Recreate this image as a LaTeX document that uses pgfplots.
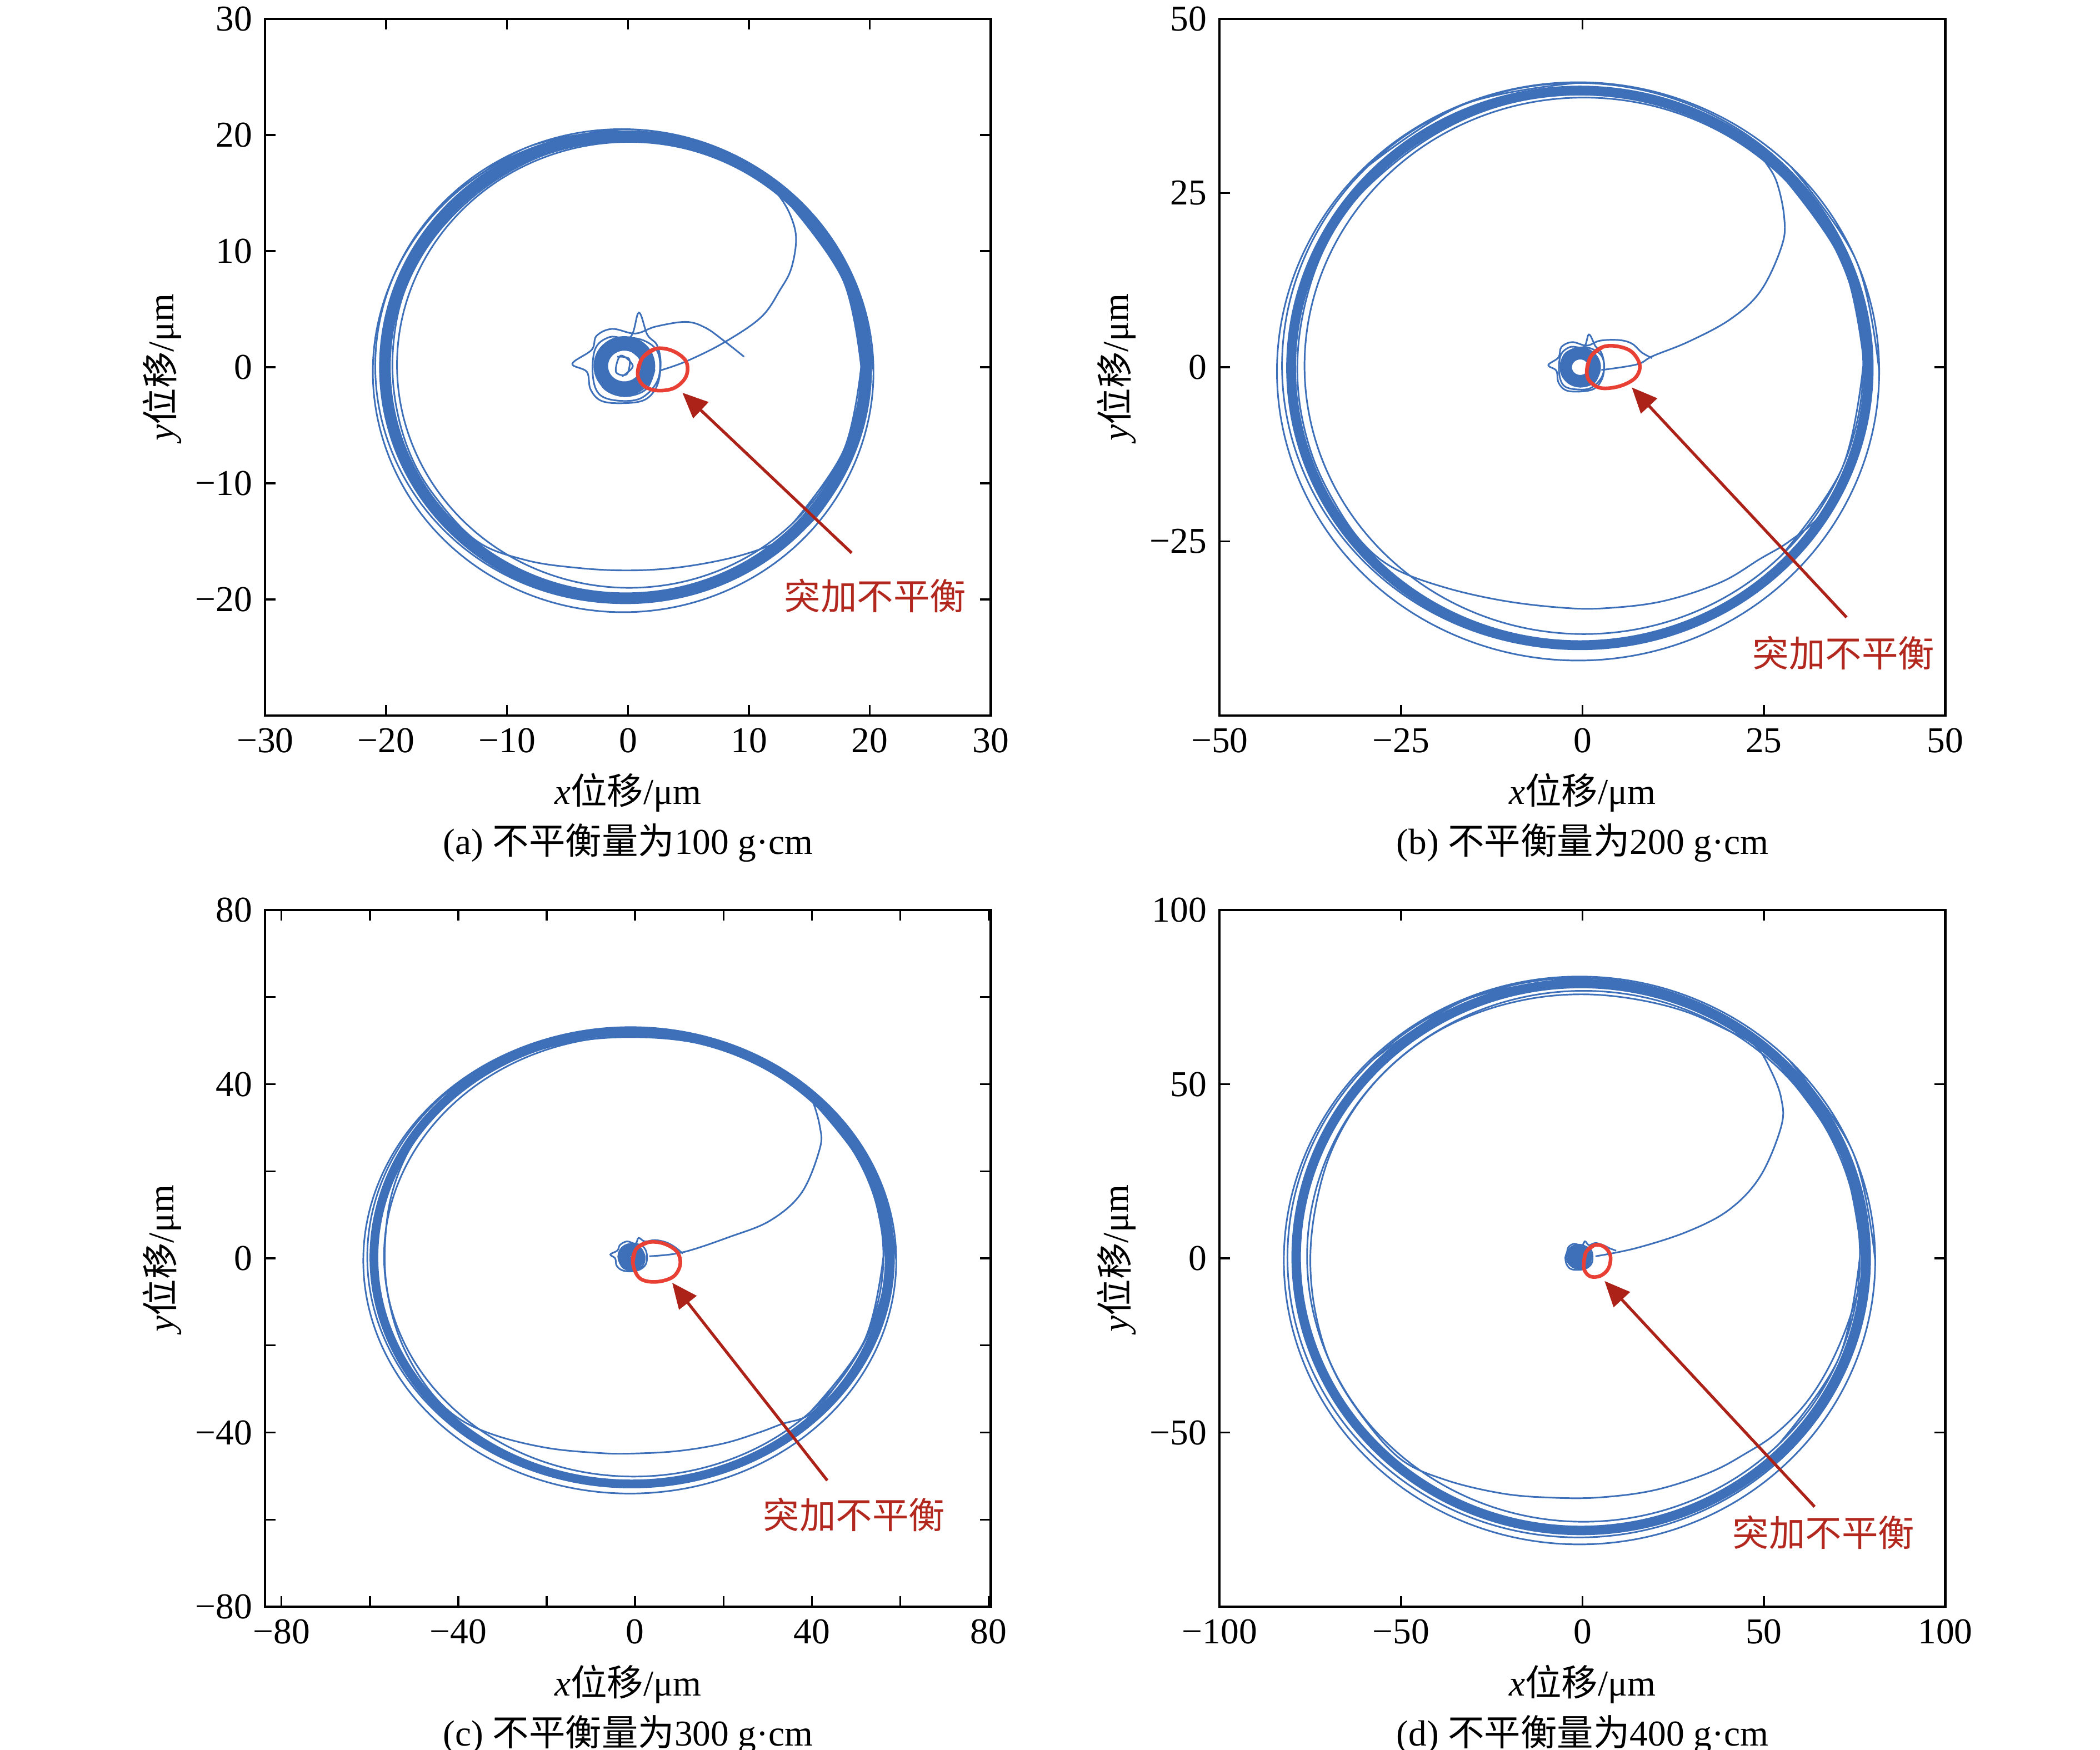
\documentclass[border=0pt]{standalone}
\usepackage{fontspec}
\setmainfont{Liberation Serif}
\newfontfamily\cjk{Noto Sans CJK SC}
\usepackage{pgfplots}
\pgfplotsset{compat=1.18}
\usetikzlibrary{arrows.meta}
\definecolor{traj}{RGB}{62,112,186}
\definecolor{loopred}{RGB}{232,64,52}
\definecolor{arrred}{RGB}{172,34,24}
\definecolor{txtred}{RGB}{178,40,30}
\pgfplotsset{orb/.style={width=199.43pt,height=191.5pt,scale only axis,clip=false,
  axis line style={line width=0.65pt}, tick style={black,line width=0.5pt},
  tick align=inside, major tick length=2.9pt, minor tick length=2.9pt,
  xlabel={\textit{x}{\cjk 位移}/μm}, ylabel={\textit{y}{\cjk 位移}/μm},
  x label style={at={(axis description cs:0.5,-0.111)},anchor=center},
  y label style={at={(axis description cs:-0.142,0.5)},anchor=center}},
  thin/.style={traj,line width=0.45pt,smooth,tension=0.62},
  band/.style={traj,smooth,tension=0.62,line cap=round,line join=round},
  arm/.style={traj,line width=0.45pt,smooth,tension=0.6},
  ring/.style={traj,smooth,tension=0.63},
  redloop/.style={loopred,line width=1pt,smooth,tension=0.6}}
\begin{document}
\begin{tikzpicture}
\path[use as bounding box] (0,0) rectangle (577.2pt,-481pt);
%%%%%%%%%%%%%%%%%%%%%%%% (a)
\begin{axis}[orb, at={(72.89pt,-5.18pt)}, anchor=north west,
  xmin=-30,xmax=30,ymin=-30,ymax=30,
  xtick={-30,-20,-10,0,10,20,30}, xticklabels={−30,−20,−10,0,10,20,30},
  ytick={-30,-20,-10,0,10,20,30}, yticklabels={,−20,−10,0,10,20,30}]
\addplot[band,line width=3.2pt] coordinates {(19.7,0) (18.19,7.62) (13.87,14.07) (7.42,18.39) (-0.2,19.9) (-7.82,18.39) (-14.27,14.07) (-18.59,7.62) (-20.1,0) (-18.59,-7.62) (-14.27,-14.07) (-7.82,-18.39) (-0.2,-19.9) (7.42,-18.39) (13.87,-14.07) (18.19,-7.62) (19.7,0) (18.19,7.62) (13.87,14.07)};
\addplot[thin] coordinates {(20.3,-0.4) (18.72,7.52) (14.24,14.24) (7.52,18.72) (-0.4,20.3) (-8.32,18.72) (-15.04,14.24) (-19.52,7.52) (-21.1,-0.4) (-19.52,-8.32) (-15.04,-15.04) (-8.32,-19.52) (-0.4,-21.1) (7.52,-19.52) (14.24,-15.04) (18.72,-8.32) (20.3,-0.4) (18.72,7.52) (14.24,14.24)};
\addplot[thin] coordinates {(13.68,-13.38) (17.84,-7.15) (19.3,0.2) (17.84,7.55) (13.68,13.78) (7.45,17.94) (0.1,19.4) (-7.25,17.94) (-13.48,13.78) (-17.64,7.55) (-19.1,0.2) (-17.64,-7.15) (-13.48,-13.38) (-7.25,-17.54) (0.1,-19.0) (7.45,-17.54) (13.68,-13.38) (17.84,-7.15) (19.3,0.2)};
\addplot[thin] coordinates {(-0.5,20.5) (-8.31,18.95) (-14.93,14.53) (-19.35,7.91) (-20.9,0.1) (-19.35,-7.71) (-14.93,-14.33) (-8.31,-18.75) (-0.5,-20.3) (7.31,-18.75) (13.93,-14.33) (18.35,-7.71) (19.9,0.1) (18.35,7.91) (13.93,14.53) (7.31,18.95) (-0.5,20.5) (-8.31,18.95) (-14.93,14.53)};
\addplot[arm] coordinates {(2.6,-0.3) (4.8,0.5) (7.9,2.1) (11,4.3) (12.6,6.7) (13.5,8.5) (13.9,11) (13.5,12.9) (12.6,14.6) (11.2,16.2) (8.5,17.8) (4.5,19.1) (0,19.6) (-4.5,19.1) (-9,17.3) (-13,14.5) (-16.3,10.8) (-18.5,6.5) (-19.4,2) (-19.3,-2.5) (-18.2,-7) (-16.2,-10.8) (-12.6,-14.9) (-8.5,-16.6) (-4,-17.3) (0.3,-17.5) (4.5,-17.2) (9,-16.3) (12.5,-15) (15.2,-13.3) (17.6,-9.6) (19.2,-5) (19.7,0) (18.9,5.2)};
\addplot[ring,line width=4pt] coordinates {(1.65,0.1) (1.39,1.08) (0.675,1.79) (-0.3,2.05) (-1.275,1.79) (-1.99,1.08) (-2.25,0.1) (-1.99,-0.88) (-1.275,-1.59) (-0.3,-1.85) (0.675,-1.59) (1.39,-0.88) (1.65,0.1) (1.39,1.08) (0.675,1.79)};
\addplot[arm] coordinates {(9.6,0.9) (7.9,2.3) (6.4,3.4) (4.8,3.9) (2.3,3.5) (0.6,2.9) (-1.3,3.3) (-2.6,2.7) (-3.0,1.5) (-4.6,0.3) (-3.4,-0.4) (-3.1,-1.9) (-2.2,-2.9) (-0.4,-3.1) (1.4,-2.8) (2.4,-1.6) (2.7,0.3) (2.4,1.9) (1.6,2.8) (0.9,4.7) (0.2,2.6) (-1.5,2.6) (-2.7,1.6) (-2.9,-0.8) (-2.3,-2.4) (-0.6,-2.9) (1.2,-2.6) (2.5,-1.0) (2.5,1.2) (1.3,2.3) (-0.5,2.5) (-2.2,1.7) (-2.6,0) (-2.0,-1.8) (-0.3,-2.5) (1.5,-1.9) (2.2,-0.2)};
\addplot[arm] coordinates {(-0.9,0.9) (0.1,0.7) (-0.1,-0.6) (-1.0,-0.4) (-0.6,1.0) (0.4,0.1) (-0.5,-0.8)};
\addplot[redloop] coordinates {(0.8,-0.5) (1.2,0.8) (2.3,1.6) (3.7,1.4) (4.8,0.5) (4.8,-0.8) (3.8,-1.8) (2.3,-2.0) (1.2,-1.5) (0.8,-0.5) (1.2,0.8) (2.3,1.6)};
\draw[arrred,line width=0.8pt,-{Triangle[length=7pt,width=6pt]}] (axis cs:18.5,-16.0) -- (axis cs:4.5,-2.2);
\node[txtred,font=\cjk] at (axis cs:20.45,-19.7) {突加不平衡};
\node at (axis description cs:0.5,-0.183) {(a) {\cjk 不平衡量为}100 g·cm};
\end{axis}
%%%%%%%%%%%%%%%%%%%%%%%% (b)
\begin{axis}[orb, at={(335.22pt,-5.18pt)}, anchor=north west,
  xmin=-50,xmax=50,ymin=-50,ymax=50, xtick pos=left, ytick pos=left,
  xtick={-50,-25,0,25,50}, xticklabels={−50,−25,0,25,50},
  ytick={-50,-25,0,25,50}, yticklabels={,−25,0,25,50}]
\addplot[band,line width=2.7pt] coordinates {(39.45,-0.1) (36.42,15.13) (27.79,28.04) (14.88,36.67) (-0.35,39.7) (-15.58,36.67) (-28.49,28.04) (-37.12,15.13) (-40.15,-0.1) (-37.12,-15.33) (-28.49,-28.24) (-15.58,-36.87) (-0.35,-39.9) (14.88,-36.87) (27.79,-28.24) (36.42,-15.33) (39.45,-0.1) (36.42,15.13) (27.79,28.04)};
\addplot[thin] coordinates {(40.9,-0.6) (37.74,15.28) (28.75,28.75) (15.28,37.74) (-0.6,40.9) (-16.48,37.74) (-29.95,28.75) (-38.94,15.28) (-42.1,-0.6) (-38.94,-16.48) (-29.95,-29.95) (-16.48,-38.94) (-0.6,-42.1) (15.28,-38.94) (28.75,-29.95) (37.74,-16.48) (40.9,-0.6) (37.74,15.28) (28.75,28.75)};
\addplot[thin] coordinates {(27.42,-27.02) (35.77,-14.53) (38.7,0.2) (35.77,14.93) (27.42,27.42) (14.93,35.77) (0.2,38.7) (-14.53,35.77) (-27.02,27.42) (-35.37,14.93) (-38.3,0.2) (-35.37,-14.53) (-27.02,-27.02) (-14.53,-35.37) (0.2,-38.3) (14.93,-35.37) (27.42,-27.02) (35.77,-14.53) (38.7,0.2)};
\addplot[thin] coordinates {(-0.8,40.8) (-16.34,37.71) (-29.51,28.91) (-38.31,15.74) (-41.4,0.2) (-38.31,-15.34) (-29.51,-28.51) (-16.34,-37.31) (-0.8,-40.4) (14.74,-37.31) (27.91,-28.51) (36.71,-15.34) (39.8,0.2) (36.71,15.74) (27.91,28.91) (14.74,37.71) (-0.8,40.8) (-16.34,37.71) (-29.51,28.91)};
\addplot[arm] coordinates {(2.6,-0.4) (7.5,0.4) (9.7,1.6) (14.7,3.7) (20.4,6.9) (24.6,11) (27.5,17.5) (27.8,21.6) (26.8,26.5) (25.3,29.3) (23.9,31) (20,33.7) (14,36.8) (7,38.6) (0,39.2) (-7,38.6) (-14,36.6) (-20.5,33.3) (-26.5,28.8) (-31.8,23.4) (-35.6,17) (-38,10) (-39.2,2.5) (-39,-5) (-37.3,-12.5) (-34.4,-19) (-30.5,-25) (-25.9,-28.9) (-19,-31.6) (-11,-33.5) (-3,-34.5) (3,-34.6) (11,-33.6) (19,-30.9) (24.5,-27.5) (28.5,-25) (33,-21) (36.8,-14) (38.9,-6) (39.4,0) (38.4,8.5)};
\addplot[ring,line width=3.4pt] coordinates {(1.7,0) (1.43,1.0) (0.7,1.73) (-0.3,2.0) (-1.3,1.73) (-2.03,1.0) (-2.3,0) (-2.03,-1.0) (-1.3,-1.73) (-0.3,-2.0) (0.7,-1.73) (1.43,-1.0) (1.7,0) (1.43,1.0) (0.7,1.73)};
\addplot[arm] coordinates {(9.6,1.3) (8.2,2.1) (6.8,3.4) (5,3.9) (2.4,3.8) (0.6,3.1) (-1.4,3.6) (-2.9,2.9) (-3.3,1.4) (-4.7,0.3) (-3.6,-0.5) (-3.3,-2.2) (-2.3,-3.3) (-0.4,-3.5) (1.6,-3.1) (2.7,-1.7) (3.0,0.3) (2.6,2.1) (1.8,3.0) (0.9,4.7) (0.2,2.9) (-1.7,2.9) (-3.0,1.7) (-3.2,-0.9) (-2.5,-2.7) (-0.6,-3.2) (1.3,-2.9) (2.8,-1.1) (2.8,1.3) (1.4,2.6) (-0.5,2.8) (-2.4,1.9) (-2.9,0) (-2.2,-2.0) (-0.3,-2.8) (1.7,-2.1) (2.4,-0.2)};
\addplot[redloop] coordinates {(0.6,-0.5) (1.2,1.6) (2.8,2.9) (4.8,3.0) (6.8,2.2) (7.9,0.3) (7.3,-1.5) (5.2,-2.7) (2.6,-3.0) (1.0,-2.0) (0.6,-0.5) (1.2,1.6) (2.8,2.9)};
\draw[line width=0.5pt] (axis cs:0,50) -- ++(0pt,-2.9pt);
\draw[line width=0.5pt] (axis cs:50,0) -- ++(-2.9pt,0pt);
\draw[arrred,line width=0.8pt,-{Triangle[length=7pt,width=6pt]}] (axis cs:36.4,-35.9) -- (axis cs:6.8,-2.9);
\node[txtred,font=\cjk] at (axis cs:36,-41) {突加不平衡};
\node at (axis description cs:0.5,-0.183) {(b) {\cjk 不平衡量为}200 g·cm};
\end{axis}
%%%%%%%%%%%%%%%%%%%%%%%% (c)
\begin{axis}[orb, at={(72.89pt,-250.12pt)}, anchor=north west,
  xmin=-83.7,xmax=80.5,ymin=-80,ymax=80,
  xtick={-80,-40,0,40,80}, xticklabels={−80,−40,0,40,80}, minor xtick={-60,-20,20,60},
  ytick={-80,-40,0,40,80}, yticklabels={−80,−40,0,40,80}, minor ytick={-60,-20,20,60}]
\addplot[band,line width=2.4pt] coordinates {(57.5,0.2) (53.06,20.1) (40.42,36.97) (21.51,48.24) (-0.8,52.2) (-23.11,48.24) (-42.02,36.97) (-54.66,20.1) (-59.1,0.2) (-54.66,-19.7) (-42.02,-36.57) (-23.11,-47.84) (-0.8,-51.8) (21.51,-47.84) (40.42,-36.57) (53.06,-19.7) (57.5,0.2) (53.06,20.1) (40.42,36.97)};
\addplot[thin] coordinates {(59.1,-0.5) (54.51,19.97) (41.44,37.33) (21.88,48.93) (-1.2,53.0) (-24.28,48.93) (-43.84,37.33) (-56.91,19.97) (-61.5,-0.5) (-56.91,-20.97) (-43.84,-38.33) (-24.28,-49.93) (-1.2,-54.0) (21.88,-49.93) (41.44,-38.33) (54.51,-20.97) (59.1,-0.5) (54.51,19.97) (41.44,37.33)};
\addplot[thin] coordinates {(39.65,-35.28) (51.9,-18.86) (56.2,0.5) (51.9,19.86) (39.65,36.28) (21.32,47.25) (-0.3,51.1) (-21.92,47.25) (-40.25,36.28) (-52.5,19.86) (-56.8,0.5) (-52.5,-18.86) (-40.25,-35.28) (-21.92,-46.25) (-0.3,-50.1) (21.32,-46.25) (39.65,-35.28) (51.9,-18.86) (56.2,0.5)};
\addplot[thin] coordinates {(-1.0,53.1) (-23.81,49.08) (-43.14,37.64) (-56.06,20.51) (-60.6,0.3) (-56.06,-19.91) (-43.14,-37.04) (-23.81,-48.48) (-1.0,-52.5) (21.81,-48.48) (41.14,-37.04) (54.06,-19.91) (58.6,0.3) (54.06,20.51) (41.14,37.64) (21.81,49.08) (-1.0,53.1) (-23.81,49.08) (-43.14,37.64)};
\addplot[arm] coordinates {(3.2,0.5) (10.8,1.4) (21.3,4.9) (30.6,8.7) (37.7,15.1) (41.8,25.2) (41.8,30.3) (40,36.6) (37.7,40.4) (32,43.5) (22,47.5) (11,50) (0,50.8) (-11,50.2) (-22,47.8) (-33,43) (-43,35.5) (-50.5,26) (-55,15) (-56.6,3) (-56,-8) (-53,-19) (-47.5,-29) (-40.7,-36.2) (-32,-40.5) (-20,-43.5) (-8,-44.7) (0,-44.8) (10,-44.2) (20,-42.5) (28,-40) (33,-38.1) (40,-35.5) (47,-27) (52.5,-18) (56,-8) (57.4,0.5) (55.6,13)};
\addplot[ring,line width=3.6pt] coordinates {(0.7,0.4) (0.49,1.2) (-0.1,1.79) (-0.9,2.0) (-1.7,1.79) (-2.29,1.2) (-2.5,0.4) (-2.29,-0.4) (-1.7,-0.99) (-0.9,-1.2) (-0.1,-0.99) (0.49,-0.4) (0.7,0.4) (0.49,1.2) (-0.1,1.79)};
\addplot[arm] coordinates {(10.8,1.1) (9,2.6) (7,3.7) (4.5,4.2) (2.2,3.9) (0.8,4.7) (0.1,3.4) (-1.8,3.9) (-3.4,3.1) (-4.0,1.8) (-5.6,0.9) (-4.5,0.0) (-4.2,-1.6) (-3.0,-2.7) (-1,-3.0) (1.0,-2.6) (2.4,-1.4) (2.7,0.6) (2.1,2.4) (0.4,3.3) (-1.9,3.0) (-3.3,1.5) (-3.5,-0.7) (-2.5,-2.3) (-0.5,-2.6) (1.6,-1.8) (2.2,0.4) (1.2,2.4)};
\addplot[redloop] coordinates {(-0.5,-1) (0.3,2.2) (3,3.7) (6.5,3.4) (9.5,1.5) (10.2,-1.5) (8.5,-4.3) (4.5,-5.4) (1,-4.5) (-0.5,-1) (0.3,2.2) (3,3.7)};
\draw[arrred,line width=0.8pt,-{Triangle[length=7pt,width=6pt]}] (axis cs:43.5,-51) -- (axis cs:8.4,-5.6);
\node[txtred,font=\cjk] at (axis cs:49.6,-58.9) {突加不平衡};
\node at (axis description cs:0.5,-0.183) {(c) {\cjk 不平衡量为}300 g·cm};
\end{axis}
%%%%%%%%%%%%%%%%%%%%%%%% (d)
\begin{axis}[orb, at={(335.22pt,-250.12pt)}, anchor=north west,
  xmin=-100,xmax=100,ymin=-100,ymax=100,
  xtick={-100,-50,0,50,100}, xticklabels={−100,−50,0,50,100},
  ytick={-100,-50,0,50,100}, yticklabels={,−50,0,50,100}]
\addplot[band,line width=2.6pt] coordinates {(78.1,0.4) (72.13,30.44) (55.11,55.91) (29.64,72.93) (-0.4,78.9) (-30.44,72.93) (-55.91,55.91) (-72.93,30.44) (-78.9,0.4) (-72.93,-29.64) (-55.91,-55.11) (-30.44,-72.13) (-0.4,-78.1) (29.64,-72.13) (55.11,-55.11) (72.13,-29.64) (78.1,0.4) (72.13,30.44) (55.11,55.91)};
\addplot[thin] coordinates {(80.7,-0.6) (74.5,30.59) (56.83,57.03) (30.39,74.7) (-0.8,80.9) (-31.99,74.7) (-58.43,57.03) (-76.1,30.59) (-82.3,-0.6) (-76.1,-31.79) (-58.43,-58.23) (-31.99,-75.9) (-0.8,-82.1) (30.39,-75.9) (56.83,-58.23) (74.5,-31.79) (80.7,-0.6) (74.5,30.59) (56.83,57.03)};
\addplot[thin] coordinates {(54.18,-53.28) (70.7,-28.56) (76.5,0.6) (70.7,29.76) (54.18,54.48) (29.46,71.0) (0.3,76.8) (-28.86,71.0) (-53.58,54.48) (-70.1,29.76) (-75.9,0.6) (-70.1,-28.56) (-53.58,-53.28) (-28.86,-69.8) (0.3,-75.6) (29.46,-69.8) (54.18,-53.28) (70.7,-28.56) (76.5,0.6)};
\addplot[thin] coordinates {(-1.0,80.5) (-31.73,74.39) (-57.78,56.98) (-75.19,30.93) (-81.3,0.2) (-75.19,-30.53) (-57.78,-56.58) (-31.73,-73.99) (-1.0,-80.1) (29.73,-73.99) (55.78,-56.58) (73.19,-30.53) (79.3,0.2) (73.19,30.93) (55.78,56.98) (29.73,74.39) (-1.0,80.5) (-31.73,74.39) (-57.78,56.98)};
\addplot[arm] coordinates {(3.6,0.6) (15,3) (29.2,7.8) (40.6,14.1) (49.1,23.7) (54.8,37.9) (54.8,45.9) (52,53.8) (47.7,61) (40,65.5) (28,71) (14,74.5) (0,75.8) (-14,74.6) (-28,70.8) (-41,64.5) (-53,55) (-62.5,43.5) (-69.5,30) (-73.5,15) (-75,0) (-73.7,-15) (-69.5,-30) (-62,-43.5) (-50.5,-57.3) (-38,-63.5) (-22,-67.5) (-8,-68.7) (5,-68.6) (20,-66.5) (35,-61.5) (45,-56) (53.4,-50.2) (62,-41) (69,-29) (74.5,-14.5) (77.8,0.5) (76.2,18)};
\addplot[ring,line width=3.6pt] coordinates {(0.8,0.5) (0.56,1.4) (-0.1,2.06) (-1,2.3) (-1.9,2.06) (-2.56,1.4) (-2.8,0.5) (-2.56,-0.4) (-1.9,-1.06) (-1,-1.3) (-0.1,-1.06) (0.56,-0.4) (0.8,0.5) (0.56,1.4) (-0.1,2.06)};
\addplot[arm] coordinates {(9.3,2.2) (7.5,2.9) (5.5,3.9) (3.5,4.4) (1.8,3.8) (0.7,4.9) (-0.2,3.6) (-2.2,4.2) (-3.8,3.3) (-4.3,1.6) (-4.7,0.3) (-4.4,-1.6) (-3.3,-3.0) (-1.2,-3.3) (1.0,-2.9) (2.5,-1.5) (2.8,0.6) (2.2,2.6) (0.2,3.5) (-2.2,3.1) (-3.7,1.5) (-3.8,-0.8) (-2.6,-2.5) (-0.4,-2.8) (1.7,-1.9) (2.3,0.5) (1.2,2.5)};
\addplot[redloop] coordinates {(0.4,-1.5) (1.0,1.8) (3.3,3.8) (6,3.3) (7.7,0.8) (7.2,-2.8) (5,-5) (2.2,-5.2) (0.6,-3.5) (0.4,-1.5) (1.0,1.8) (3.3,3.8)};
\draw[arrred,line width=0.8pt,-{Triangle[length=7pt,width=6pt]}] (axis cs:64,-71.3) -- (axis cs:6.1,-6.5);
\node[txtred,font=\cjk] at (axis cs:66.5,-78.7) {突加不平衡};
\node at (axis description cs:0.5,-0.183) {(d) {\cjk 不平衡量为}400 g·cm};
\end{axis}
\end{tikzpicture}
\end{document}
